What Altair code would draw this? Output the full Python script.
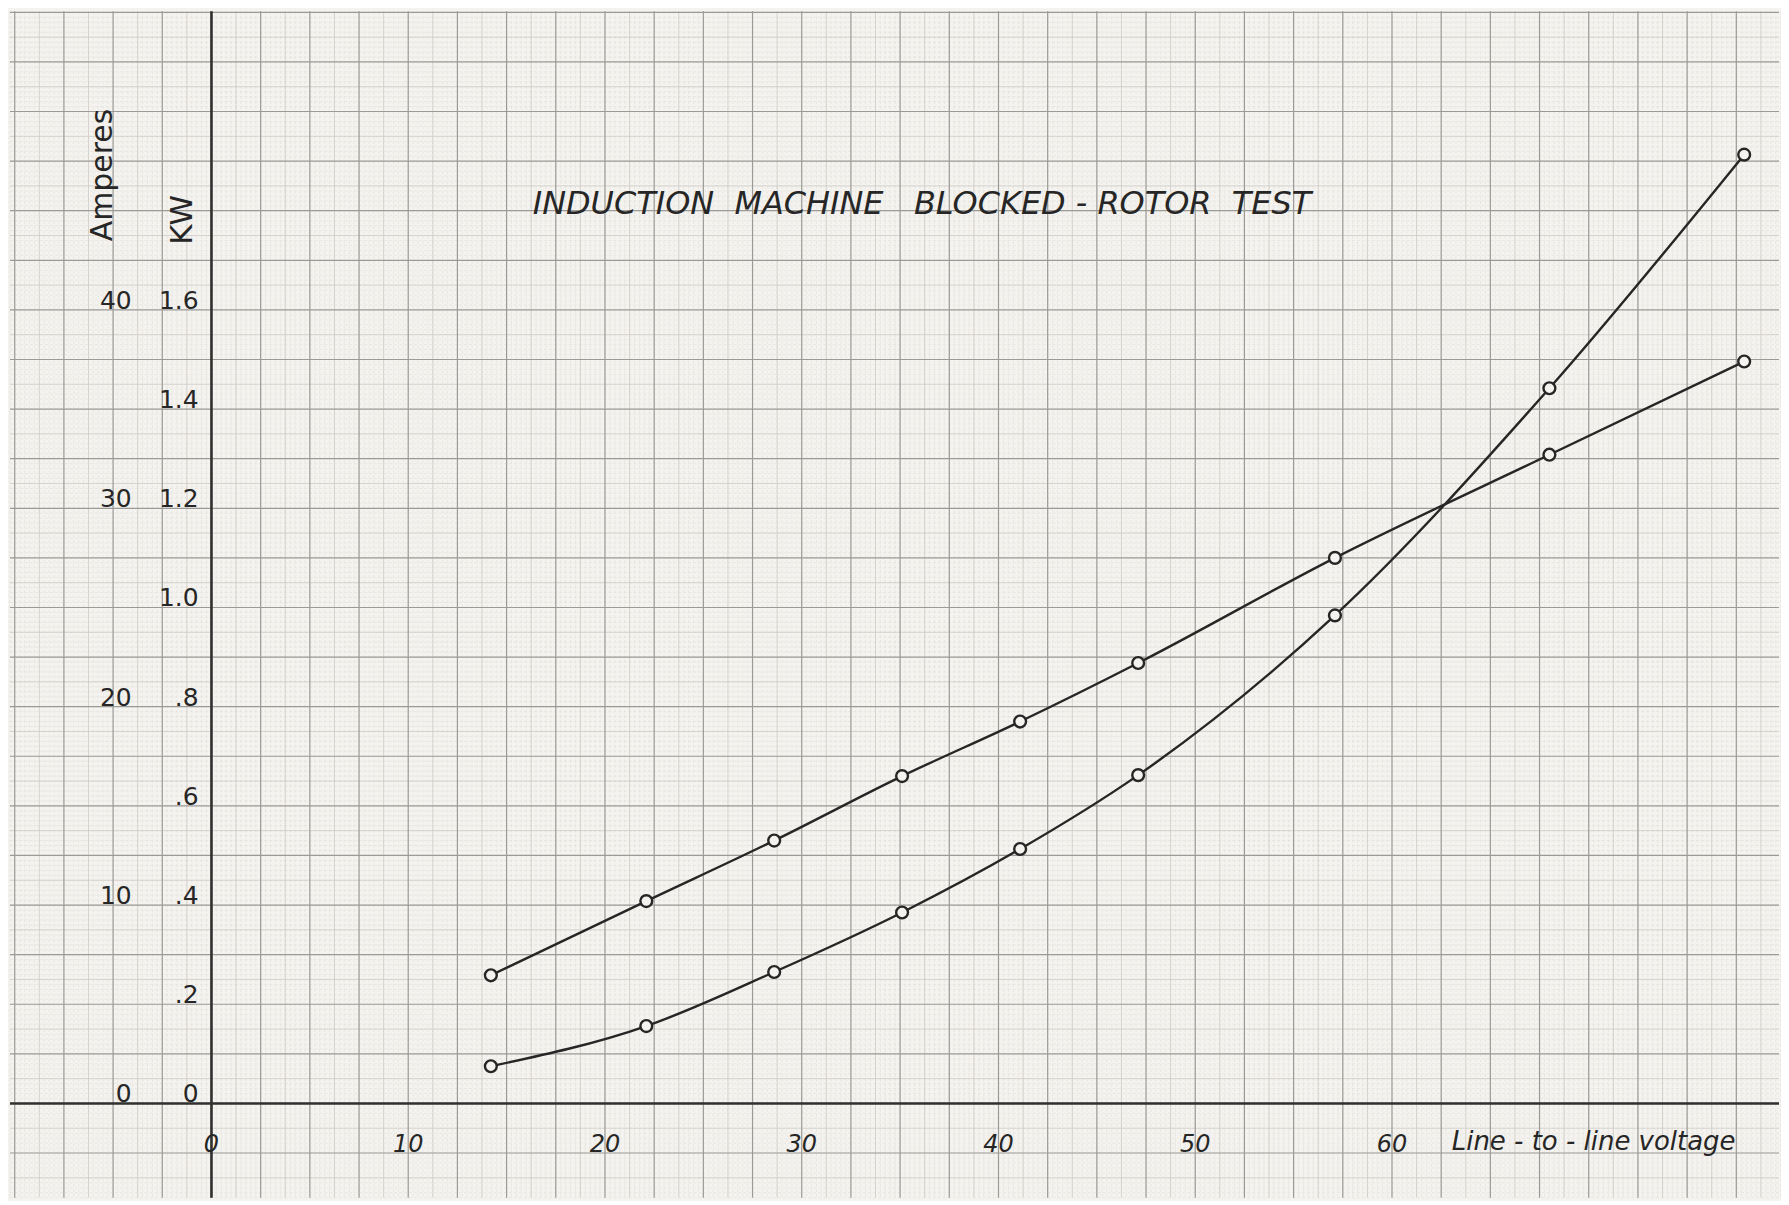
import altair as alt
import pandas as pd
import numpy as np

# ---- measured data ----
voltage = [14.2, 22.1, 28.6, 35.1, 41.1, 47.1, 57.1, 68.0, 77.9]
amperes = [6.46, 10.2, 13.25, 16.5, 19.25, 22.2, 27.5, 32.7, 37.4]
kilowatts = [0.075, 0.156, 0.265, 0.385, 0.513, 0.662, 0.984, 1.442, 1.913]

# ---- tick labels ----
x_ticks = [0, 10, 20, 30, 40, 50, 60]
x_tick_labels = ["0", "10", "20", "30", "40", "50", "60"]
kw_ticks = [0.0, 0.2, 0.4, 0.6, 0.8, 1.0, 1.2, 1.4, 1.6]
kw_tick_labels = ["0", ".2", ".4", ".6", ".8", "1.0", "1.2", "1.4", "1.6"]
amp_ticks = [0, 10, 20, 30, 40]
amp_tick_labels = ["0", "10", "20", "30", "40"]

PAPER = "#f4f3ef"
INK = "#262626"
W, H = 1773, 1189
X_DOM = [-10.24, 79.67]
Y_DOM = [-0.190, 2.202]

xs = alt.Scale(domain=X_DOM, nice=False, zero=False)
ys = alt.Scale(domain=Y_DOM, nice=False, zero=False)

# ---- graph paper ----
fine_x = pd.DataFrame({"v": np.round(np.arange(-10.25, 80.0, 0.25), 3)})
fine_y = pd.DataFrame({"k": np.round(np.arange(-0.19, 2.21, 0.01), 3)})
mid_x = pd.DataFrame({"v": np.round(np.arange(-8.75, 80.0, 2.5), 3)})
mid_y = pd.DataFrame({"k": np.round(np.arange(-0.15, 2.21, 0.1), 3)})
maj_x = pd.DataFrame({"v": np.round(np.arange(-10.0, 80.0, 2.5), 3)})
maj_y = pd.DataFrame({"k": np.round(np.arange(-0.1, 2.21, 0.1), 3)})

def vrules(df, color, width, dash=None):
    kw = dict(color=color, strokeWidth=width)
    if dash:
        kw["strokeDash"] = dash
    return alt.Chart(df).mark_rule(**kw).encode(x=alt.X("v:Q", scale=xs, axis=None))

def hrules(df, color, width, dash=None):
    kw = dict(color=color, strokeWidth=width)
    if dash:
        kw["strokeDash"] = dash
    return alt.Chart(df).mark_rule(**kw).encode(y=alt.Y("k:Q", scale=ys, axis=None))

paper = [
    vrules(fine_x, "#dedbd6", 0.5, [3, 2]), hrules(fine_y, "#dedbd6", 0.5, [3, 2]),
    vrules(mid_x, "#cbc8c3", 0.7), hrules(mid_y, "#cbc8c3", 0.7),
    vrules(maj_x, "#9c9a96", 1.2), hrules(maj_y, "#9c9a96", 1.2),
]

axes = [
    vrules(pd.DataFrame({"v": [0.0]}), "#303030", 2.6),
    hrules(pd.DataFrame({"k": [0.0]}), "#303030", 2.6),
]

# ---- curves ----
df = pd.DataFrame({"voltage": voltage, "amperes": amperes, "kw": kilowatts})

amp_base = alt.Chart(df).transform_calculate(y="datum.amperes / 25")
kw_base = alt.Chart(df).transform_calculate(y="datum.kw")

def curve(base):
    line = base.mark_line(color=INK, strokeWidth=2.4, interpolate="monotone").encode(
        x=alt.X("voltage:Q", scale=xs, axis=None),
        y=alt.Y("y:Q", scale=ys, axis=None))
    pts = base.mark_point(shape="circle", size=140, filled=False, fill=PAPER, fillOpacity=1,
                          stroke=INK, strokeWidth=2.4, opacity=1).encode(
        x=alt.X("voltage:Q", scale=xs, axis=None),
        y=alt.Y("y:Q", scale=ys, axis=None))
    return [line, pts]

# ---- labels ----
xlab = pd.DataFrame({"v": x_ticks, "t": x_tick_labels})
x_labels = alt.Chart(xlab).mark_text(font="DejaVu Sans", fontStyle="italic", fontSize=24,
                                     color=INK, align="center", baseline="alphabetic").encode(
    x=alt.X("v:Q", scale=xs, axis=None), y=alt.value(1143), text="t:N")

kwlab = pd.DataFrame({"k": kw_ticks, "t": kw_tick_labels})
kw_labels = alt.Chart(kwlab).mark_text(font="DejaVu Sans", fontSize=25, color=INK,
                                       align="right", baseline="alphabetic", dy=-1).encode(
    x=alt.value(189), y=alt.Y("k:Q", scale=ys, axis=None), text="t:N")

amplab = pd.DataFrame({"a": amp_ticks, "t": amp_tick_labels})
amp_labels = alt.Chart(amplab).transform_calculate(k="datum.a / 25").mark_text(
    font="DejaVu Sans", fontSize=25, color=INK, align="right", baseline="alphabetic", dy=-1).encode(
    x=alt.value(122), y=alt.Y("k:Q", scale=ys, axis=None), text="t:N")

NB = "\u00a0"
ann = pd.DataFrame({
    "t": ["INDUCTION" + NB * 2 + "MACHINE" + NB * 3 + "BLOCKED" + NB + "-" + NB + "ROTOR" + NB * 2 + "TEST"],
})
title = alt.Chart(ann).mark_text(font="DejaVu Sans", fontStyle="italic", fontSize=32, color=INK,
                                 align="center", baseline="alphabetic").encode(
    x=alt.value(914), y=alt.value(203), text="t:N")

xname = alt.Chart(pd.DataFrame({"t": ["Line" + NB + "-" + NB + "to" + NB + "-" + NB + "line" + NB + "voltage"]})).mark_text(
    font="DejaVu Sans", fontStyle="italic", fontSize=26, color=INK,
    align="left", baseline="alphabetic").encode(
    x=alt.value(1445), y=alt.value(1141), text="t:N")

ampname = alt.Chart(pd.DataFrame({"t": ["Amperes"]})).mark_text(
    font="DejaVu Sans", fontSize=30, color=INK, angle=270,
    align="center", baseline="middle").encode(
    x=alt.value(93), y=alt.value(164), text="t:N")

kwname = alt.Chart(pd.DataFrame({"t": ["KW"]})).mark_text(
    font="DejaVu Sans", fontSize=31, color=INK, angle=270,
    align="center", baseline="middle").encode(
    x=alt.value(173), y=alt.value(209), text="t:N")

layers = paper + axes + curve(amp_base) + curve(kw_base) + [
    x_labels, kw_labels, amp_labels, title, xname, ampname, kwname]

chart = alt.layer(*layers).properties(
    width=W, height=H, padding=0, background=PAPER
).configure_view(stroke=None)

chart.save("out.html", embed_options={"renderer": "svg", "actions": False})
